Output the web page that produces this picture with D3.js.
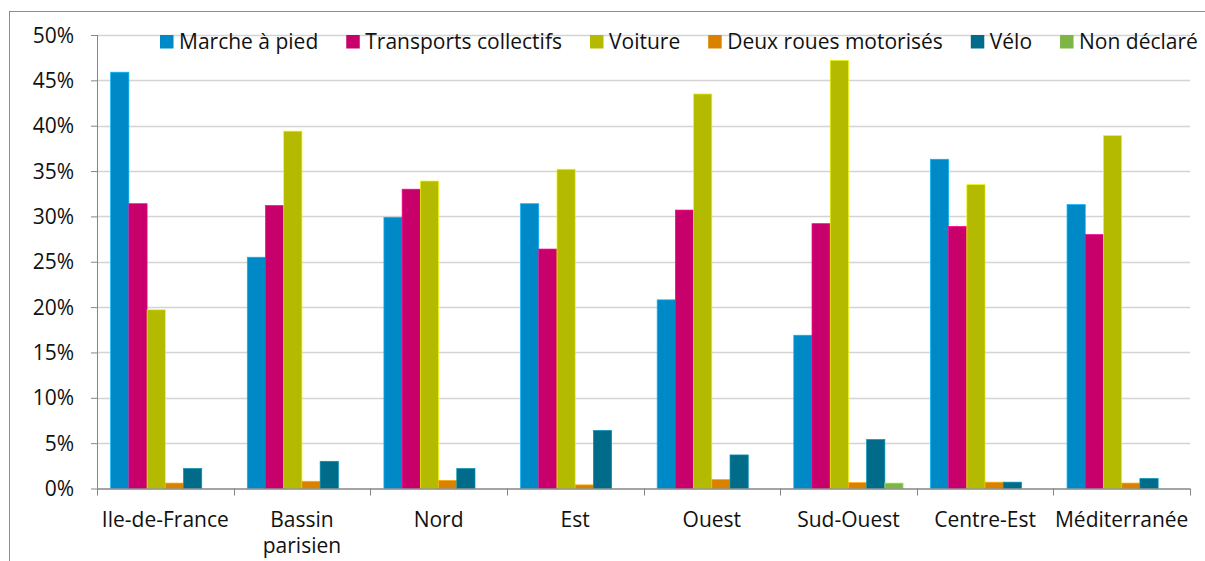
<!DOCTYPE html>
<html>
<head>
<meta charset="utf-8">
<script src="https://cdn.jsdelivr.net/npm/d3@7"></script>
<style>
  body { margin: 0; background: #fff; }
  text { font-family: "Open Sans", "Noto Sans", sans-serif; fill: #111; }
</style>
</head>
<body>
<div id="chart"></div>
<script>
// regions on the x axis
var regions = ["Ile-de-France", "Bassin parisien", "Nord", "Est", "Ouest", "Sud-Ouest", "Centre-Est", "Méditerranée"];
// transport modes (legend order)
var modes = ["Marche à pied", "Transports collectifs", "Voiture", "Deux roues motorisés", "Vélo", "Non déclaré"];
var modeColors = ["#0089c7", "#c8006b", "#b3ba00", "#d98200", "#006c89", "#7db645"];
// share of each mode, in %, per region
var marche      = [45.9, 25.5, 29.9, 31.4, 20.8, 16.9, 36.3, 31.3];
var collectifs  = [31.4, 31.2, 33.0, 26.4, 30.7, 29.2, 28.9, 28.0];
var voiture     = [19.7, 39.4, 33.9, 35.2, 43.5, 47.2, 33.5, 38.9];
var deuxRoues   = [0.6, 0.8, 0.9, 0.4, 1.0, 0.65, 0.7, 0.6];
var velo        = [2.2, 3.0, 2.2, 6.4, 3.7, 5.4, 0.7, 1.1];
var nonDeclare  = [0, 0, 0, 0, 0, 0.6, 0, 0];
var yTicks = [0, 5, 10, 15, 20, 25, 30, 35, 40, 45, 50];

var series = [marche, collectifs, voiture, deuxRoues, velo, nonDeclare];

var svgWidth = 1205;
var svgHeight = 561;
var margin = { top: 35, left: 97 };
var width = 1190 - margin.left;
var height = 488.5 - margin.top;
var fontSize = "21px";

var svg = d3.select("#chart")
    .append("svg")
    .attr("width", svgWidth)
    .attr("height", svgHeight);

// outer frame of the chart area (runs off the page to the right and bottom)
svg.append("rect")
    .attr("x", 9.5)
    .attr("y", 11.5)
    .attr("width", 1400)
    .attr("height", 800)
    .attr("fill", "none")
    .attr("stroke", "#8c8c8c");

var chart = svg.append("g")
    .attr("transform", `translate(${margin.left}, ${margin.top})`);

// one band per region, bars take 80% of it
var xBounds = d3.scaleBand().domain(regions).range([0, width]);
var groupWidth = xBounds.bandwidth() * 0.8;
var x1 = d3.scaleBand()
    .domain(modes)
    .range([0, groupWidth]);
var y = d3.scaleLinear()
    .domain([0, 50])
    .range([height, 0]);

// gridlines
chart.append("g")
    .selectAll("line")
    .data(yTicks.slice(1))
    .enter()
    .append("line")
    .attr("x1", 0)
    .attr("x2", width)
    .attr("y1", d => Math.round(y(d)) + 0.5)
    .attr("y2", d => Math.round(y(d)) + 0.5)
    .attr("stroke", "#d4d4d4")
    .attr("stroke-width", 1.3);

// bars
var groups = chart.selectAll(".region")
    .data(regions)
    .enter()
    .append("g")
    .attr("class", "region")
    .attr("transform", d => `translate(${xBounds(d) + (xBounds.bandwidth() - groupWidth) / 2}, 0)`);

groups.selectAll("rect")
    .data((r, i) => modes.map((m, j) => ({ mode: m, value: series[j][i], color: modeColors[j] })))
    .enter()
    .append("rect")
    .filter(d => d.value > 0)
    .attr("x", d => x1(d.mode))
    .attr("y", d => y(d.value))
    .attr("width", x1.bandwidth())
    .attr("height", d => y(0) - y(d.value))
    .attr("fill", d => d.color)
    .attr("stroke", d => d3.color(d.color).brighter(0.8))
    .attr("stroke-width", 0.7);

// y axis
var yAxis = d3.axisLeft(y)
    .tickValues(yTicks)
    .tickSize(6)
    .tickPadding(17)
    .tickFormat(d => d + "%");
var yg = chart.append("g").call(yAxis);
yg.select(".domain").attr("stroke", "#868686").attr("d", `M0.5,${height}V0`);
yg.selectAll(".tick line").attr("stroke", "#868686");
yg.selectAll(".tick text").style("font-size", fontSize).attr("fill", "#111").attr("dy", "0.34em");

// x axis: line plus ticks at group boundaries
var xg = chart.append("g").attr("transform", `translate(0, ${height})`);
xg.append("line")
    .attr("x1", 0).attr("x2", width)
    .attr("y1", 0.5).attr("y2", 0.5)
    .attr("stroke", "#868686").attr("stroke-width", 1.3);
xg.selectAll(".xtick")
    .data(regions.concat(["end"]))
    .enter()
    .append("line")
    .attr("x1", (d, i) => Math.round(i * xBounds.bandwidth()) + 0.5)
    .attr("x2", (d, i) => Math.round(i * xBounds.bandwidth()) + 0.5)
    .attr("y1", 0)
    .attr("y2", 7)
    .attr("stroke", "#868686");

var labels = xg.selectAll(".xlabel")
    .data(regions)
    .enter()
    .append("text")
    .attr("text-anchor", "middle")
    .attr("x", d => xBounds(d) + xBounds.bandwidth() / 2)
    .attr("y", 38.5)
    .style("font-size", fontSize);
labels.each(function(d) {
    var words = d === "Bassin parisien" ? ["Bassin", "parisien"] : [d];
    var t = d3.select(this);
    words.forEach(function(w, k) {
        t.append("tspan")
            .attr("x", xBounds(d) + xBounds.bandwidth() / 2)
            .attr("dy", k === 0 ? 0 : 26)
            .text(w);
    });
});

// legend
var legend = svg.append("g").attr("transform", "translate(160, 35)");
var lx = 0;
modes.forEach(function(m, j) {
    var item = legend.append("g").attr("transform", `translate(${lx}, 0)`);
    item.append("rect")
        .attr("width", 13.5)
        .attr("height", 13.5)
        .attr("fill", modeColors[j]);
    var t = item.append("text")
        .attr("x", 19)
        .attr("y", 13.5)
        .style("font-size", fontSize)
        .text(m);
    lx += 19 + t.node().getComputedTextLength() + 28;
});
</script>
</body>
</html>
